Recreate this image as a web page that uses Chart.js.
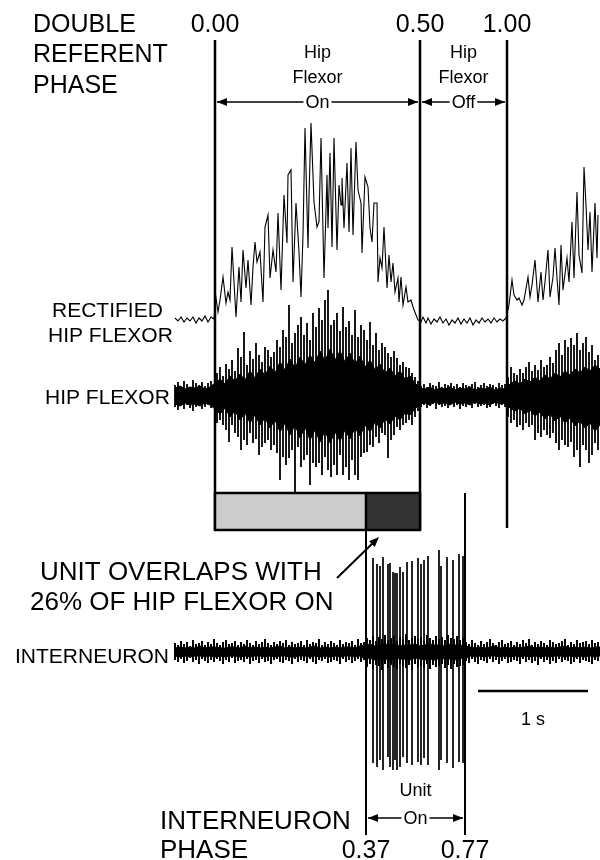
<!DOCTYPE html>
<html>
<head>
<meta charset="utf-8">
<title>Hip flexor / interneuron phase</title>
<script src="https://cdn.jsdelivr.net/npm/chart.js@4.4.1/dist/chart.umd.min.js"></script>
<style>
  html, body { margin: 0; padding: 0; background: #fff; }
  #fig { display: block; }
</style>
</head>
<body>
<canvas id="fig" width="600" height="860"></canvas>
<script>
// display rate of the traces (samples per second), sample 0 = start of recording
const SAMPLE_RATE = 110;

// phase markers (sample index of each marker)
const refPhaseLabels = ['0.00', '0.50', '1.00'];
const refPhaseSamples = [40, 245, 332];
const unitPhaseLabels = ['0.37', '0.77'];
const unitPhaseSamples = [191, 290];
const overlapPercent = 26;
const scaleBarStart = 303;

// rectified hip flexor EMG (sample, amplitude)
const rectSamples = [0,3,6,9,12,15,18,21,24,27,30,33,36,39,
  41,43,45,48,51,53,55,57,61,64,66,68,71,73,76,78,80,82,85,88,90,93,95,98,101,103,106,109,112,113,116,118,121,124,126,128,130,133,134,136,139,142,144,146,149,152,153,155,157,159,162,164,166,167,169,172,174,176,178,181,183,186,187,190,193,195,197,199,202,203,205,207,209,212,214,216,218,220,223,224,226,228,231,233,236,238,241,243,
  246,248,251,253,256,259,262,265,268,271,274,277,280,283,286,289,292,295,298,301,304,307,310,313,316,319,322,325,328,331,
  334,337,339,342,344,347,349,353,355,357,360,363,366,368,370,373,375,378,380,382,384,386,388,392,394,397,399,402,404,407,409,411,413,415,417,420,422,423];
const rectValues = [2,-1,3,-2,2,-1,3,-3,2,-1,4,-2,3,1,
  22,8,20,43,17,28,20,73,3,53,18,70,32,60,15,53,78,58,68,18,93,105,42,70,48,107,30,125,77,145,150,38,117,68,23,85,192,72,123,197,118,93,98,182,42,145,92,167,73,182,70,135,115,142,92,157,88,172,85,178,130,117,67,143,133,92,78,117,117,38,62,52,93,32,65,38,57,28,42,18,43,15,33,18,20,13,5,0,
  -2,3,-3,2,-4,1,-2,3,-3,1,-5,0,-3,2,-4,1,-3,2,-5,0,-3,2,-2,1,-3,2,-2,1,-1,2,
  15,40,25,20,22,15,20,43,23,35,60,18,48,20,38,70,23,43,72,42,15,75,30,62,38,98,42,128,65,47,153,115,70,108,48,117,62,105];

// raw hip flexor EMG
// dense core, one value every envStep samples
const envStep = 5;
const emgUpper = [7,9,6,8,7,9,6,8,
  12,16,11,19,14,21,15,24,17,26,
  20,29,22,33,25,36,27,38,30,40,
  32,44,34,46,35,44,33,42,31,39,
  28,35,25,31,22,27,19,24,16,19,
  12,7,6,8,5,7,6,8,5,7,
  6,8,5,7,6,8,5,7,6,11,
  14,11,16,13,18,14,20,16,22,18,
  24,20,26,22,28,24,30,26];
const emgLower = [9,11,8,10,9,11,8,10,
  14,19,13,22,16,25,18,28,20,30,
  23,33,25,37,28,40,30,43,32,45,
  35,47,36,48,37,46,35,44,33,41,
  30,37,27,33,24,29,21,25,18,20,
  14,9,8,10,7,9,8,10,7,9,
  8,10,7,9,8,10,7,9,8,13,
  16,13,19,15,21,17,24,19,26,21,
  28,23,31,26,33,28,36,30];
// max / min of each bin, one bin every binStep samples
const binStep = 3;
const emgMax = [10,13,9,14,11,8,15,12,10,13,9,12,14,11,
  22,28,19,31,26,35,24,47,
  38,63,30,44,36,52,40,33,48,45,38,43,55,
  48,65,58,90,52,62,70,78,60,72,55,82,68,
  87,75,95,105,70,75,82,64,88,68,74,60,85,
  58,70,65,55,73,50,62,45,52,48,
  42,38,44,37,30,33,28,27,22,18,14,
  9,11,8,12,10,9,13,8,11,10,12,9,11,8,12,10,9,11,13,8,10,12,9,11,10,8,12,10,11,
  18,28,22,20,26,22,28,33,24,30,25,35,28,30,38,32,45,52,40,55,48,57,50,62,45,52,58,43,50,35,40];
const emgMin = [12,15,11,14,10,13,16,12,11,14,12,10,13,12,
  28,25,30,35,47,30,38,42,
  55,45,50,38,48,44,60,52,48,45,55,50,58,
  85,62,70,63,55,97,52,72,65,60,90,68,72,
  68,80,62,75,82,70,80,60,80,72,85,65,80,
  85,62,58,57,50,52,42,48,38,40,
  63,45,40,32,35,30,28,25,30,22,16,
  12,10,13,11,9,14,10,12,11,13,9,12,10,14,11,12,10,13,9,12,11,10,13,12,9,11,13,10,12,
  22,28,25,32,30,35,28,32,30,45,38,42,35,40,43,38,48,55,45,50,52,47,62,55,72,50,55,68,60,48,55];

// interneuron recording: background noise + unit spikes
const unitUpper = [4,5,4,5,4,6,4,5,5,4,4,5,5,4,6,4,5,4,5,4,5,6,4,5,4,5,4,5,6,4,5,4,5,4,5,5,4,6,
  7,8,6,7,8,7,8,6,7,7,8,6,7,8,7,7,6,8,7,7,6,
  5,4,5,4,5,6,4,5,4,5,4,5,6,4,5,4,5,4,5,6,4,5,4,5,4,5,5];
const unitLower = [4,5,4,5,4,4,5,4,5,4,5,4,4,5,4,5,4,4,5,4,5,4,4,5,5,4,4,5,4,5,4,5,4,5,4,4,5,4,
  7,6,8,7,7,8,6,7,7,8,6,7,8,7,8,6,7,7,8,6,7,
  4,5,4,5,4,4,5,4,5,4,5,4,5,4,5,4,5,4,4,5,4,5,4,5,4,5,4];
const unitMax = [9,7,11,8,10,6,12,8,9,11,7,10,8,13,9,7,10,12,8,9,11,7,10,8,12,9,7,11,8,10,13,9,7,10,8,11,9,12,7,10,8,9,11,7,12,8,10,9,13,7,10,8,11,9,7,12,8,10,9,11,7,13,9,10,
  14,12,16,11,15,13,17,12,14,16,11,15,13,18,12,14,16,13,15,11,17,14,12,16,13,15,12,17,14,13,16,12,14,
  10,8,12,9,7,11,8,10,13,9,7,10,12,8,9,11,7,10,8,12,9,13,7,10,8,11,9,7,12,10,8,9,11,13,7,10,8,12,9,10,11,8,12,9,10];
const unitMin = [8,10,7,11,9,6,10,8,12,7,9,11,8,10,7,9,12,8,10,6,11,9,8,10,7,12,9,8,11,7,10,9,12,8,7,10,11,8,9,12,7,10,8,9,11,7,10,12,8,9,7,11,10,8,9,12,7,10,8,11,9,7,10,8,
  15,12,17,13,14,18,12,16,13,15,17,12,14,16,13,18,12,15,14,16,12,17,13,15,14,12,16,13,17,12,15,14,13,
  9,11,7,10,12,8,9,11,7,10,8,12,9,7,11,10,8,9,12,7,10,8,11,9,13,7,10,8,12,9,11,7,10,8,9,12,10,7,11,8,9,10,12,8,9];
const unitSpikeSamples = [191,198,202,205,208,213,215,218,220,222,225,228,232,237,243,246,249,253,264,266,272,278,284,288];
const unitSpikeUp = [97,94,88,86,95,88,89,80,79,79,85,80,90,91,94,88,92,96,102,86,95,92,98,96];
const unitSpikeDown = [123,111,115,108,118,105,115,118,108,118,115,105,111,113,110,113,106,113,118,108,111,116,110,111];

// ---- layout (pixels) ----
const W = 600, H = 860;
const TRACE_LEFT = 175;          // where sample 0 sits
const RECT_BASE = 320, EMG_BASE = 395, UNIT_BASE = 652;
const FONT = '"Liberation Sans", Arial, Helvetica, sans-serif';

function traceAxis(basePx) {
  // 1 amplitude unit per pixel, zero on the trace baseline
  return { type: 'linear', display: false, min: basePx - H, max: basePx };
}

function envelope(values, sign) {
  return values.map((v, i) => ({ x: i * envStep, y: sign * v }));
}

// vertical strokes from -bottom to +top at each sample, broken by gaps
function strokes(samples, tops, bottoms) {
  const pts = [];
  samples.forEach((s, i) => {
    pts.push({ x: s, y: tops[i] });
    pts.push({ x: s, y: -bottoms[i] });
    pts.push({ x: s, y: null });
  });
  return pts;
}

const binSamples = emgMax.map((_, i) => i * binStep);
const lineBase = { borderColor: '#000', pointRadius: 0, tension: 0, spanGaps: false };

const datasets = [
  Object.assign({}, lineBase, {
    label: 'Rectified hip flexor',
    data: rectSamples.map((s, i) => ({ x: s, y: rectValues[i] })),
    yAxisID: 'yRect', borderWidth: 1.1, fill: false
  }),
  Object.assign({}, lineBase, {
    label: 'Hip flexor core (upper)', data: envelope(emgUpper, 1),
    yAxisID: 'yEmg', borderWidth: 1, fill: '+1', backgroundColor: '#000'
  }),
  Object.assign({}, lineBase, {
    label: 'Hip flexor core (lower)', data: envelope(emgLower, -1),
    yAxisID: 'yEmg', borderWidth: 1, fill: false
  }),
  Object.assign({}, lineBase, {
    label: 'Hip flexor', data: strokes(binSamples, emgMax, emgMin),
    yAxisID: 'yEmg', borderWidth: 1.8, fill: false
  }),
  Object.assign({}, lineBase, {
    label: 'Interneuron core (upper)', data: envelope(unitUpper, 1),
    yAxisID: 'yUnit', borderWidth: 1, fill: '+1', backgroundColor: '#000'
  }),
  Object.assign({}, lineBase, {
    label: 'Interneuron core (lower)', data: envelope(unitLower, -1),
    yAxisID: 'yUnit', borderWidth: 1, fill: false
  }),
  Object.assign({}, lineBase, {
    label: 'Interneuron', data: strokes(binSamples, unitMax, unitMin),
    yAxisID: 'yUnit', borderWidth: 2, fill: false
  }),
  Object.assign({}, lineBase, {
    label: 'Interneuron spikes', data: strokes(unitSpikeSamples, unitSpikeUp, unitSpikeDown),
    yAxisID: 'yUnit', borderWidth: 1.7, fill: false
  })
];

function arrowHead(ctx, x, y, dx, dy) {
  const len = Math.hypot(dx, dy);
  const ux = dx / len, uy = dy / len;
  ctx.beginPath();
  ctx.moveTo(x, y);
  ctx.lineTo(x - ux * 10 - uy * 4, y - uy * 10 + ux * 4);
  ctx.lineTo(x - ux * 10 + uy * 4, y - uy * 10 - ux * 4);
  ctx.closePath();
  ctx.fill();
}

function spanArrow(ctx, x1, x2, y, label) {
  ctx.lineWidth = 1.6;
  ctx.beginPath(); ctx.moveTo(x1, y); ctx.lineTo(x2, y); ctx.stroke();
  ctx.fillStyle = '#000';
  arrowHead(ctx, x1, y, -1, 0);
  arrowHead(ctx, x2, y, 1, 0);
  const cx = (x1 + x2) / 2;
  const w = ctx.measureText(label).width + 4;
  ctx.fillStyle = '#fff';
  ctx.fillRect(cx - w / 2, y - 9, w, 18);
  ctx.fillStyle = '#000';
  ctx.fillText(label, cx, y + 1);
}

function vline(ctx, x, y1, y2, w) {
  ctx.lineWidth = w;
  ctx.beginPath(); ctx.moveTo(x, y1); ctx.lineTo(x, y2); ctx.stroke();
}

const figureNotes = {
  id: 'figureNotes',
  afterDatasetsDraw(chart) {
    const ctx = chart.ctx;
    const px = s => chart.scales.x.getPixelForValue(s);
    ctx.save();
    ctx.strokeStyle = '#000';
    ctx.fillStyle = '#000';

    // double referent phase lines + labels
    const refX = refPhaseSamples.map(px);
    refX.forEach((x, i) => vline(ctx, x, 40, i === 2 ? 528 : 530, 2.5));
    ctx.font = '25px ' + FONT;
    ctx.textAlign = 'center';
    ctx.textBaseline = 'alphabetic';
    refPhaseLabels.forEach((t, i) => ctx.fillText(t, refX[i], 32));
    ctx.textAlign = 'left';
    ctx.fillText('DOUBLE', 33, 32);
    ctx.fillText('REFERENT', 33, 62);
    ctx.fillText('PHASE', 33, 93);

    // hip flexor on / off
    ctx.font = '18px ' + FONT;
    ctx.textAlign = 'center';
    ctx.textBaseline = 'middle';
    const onMid = (refX[0] + refX[1]) / 2, offMid = (refX[1] + refX[2]) / 2;
    ctx.fillText('Hip', onMid, 53);
    ctx.fillText('Flexor', onMid, 78);
    ctx.fillText('Hip', offMid, 53);
    ctx.fillText('Flexor', offMid, 78);
    spanArrow(ctx, refX[0] + 2, refX[1] - 2, 102, 'On');
    spanArrow(ctx, refX[1] + 2, refX[2] - 2, 102, 'Off');

    // overlap bar
    const ux = unitPhaseSamples.map(px);
    const boxTop = 493, boxBot = 530;
    ctx.fillStyle = '#cccccc';
    ctx.fillRect(refX[0], boxTop, ux[0] - refX[0], boxBot - boxTop);
    ctx.fillStyle = '#333333';
    ctx.fillRect(ux[0], boxTop, refX[1] - ux[0], boxBot - boxTop);
    ctx.lineWidth = 2.5;
    ctx.strokeRect(refX[0], boxTop, refX[1] - refX[0], boxBot - boxTop);
    vline(ctx, ux[0], boxTop, boxBot, 2.5);

    // unit phase lines
    vline(ctx, ux[0], boxBot, 835, 2);
    vline(ctx, ux[1], boxTop, 835, 2);

    // overlap annotation
    ctx.lineWidth = 2;
    ctx.beginPath(); ctx.moveTo(337, 578); ctx.lineTo(376, 540); ctx.stroke();
    ctx.fillStyle = '#000';
    arrowHead(ctx, 379, 537, 41, -41);
    ctx.font = '26px ' + FONT;
    ctx.textAlign = 'left';
    ctx.textBaseline = 'alphabetic';
    ctx.fillText('UNIT OVERLAPS WITH', 40, 580);
    ctx.fillText(overlapPercent + '% OF HIP FLEXOR ON', 30, 610);

    // unit on
    ctx.font = '18px ' + FONT;
    ctx.textAlign = 'center';
    ctx.textBaseline = 'middle';
    ctx.fillText('Unit', (ux[0] + ux[1]) / 2, 791);
    spanArrow(ctx, ux[0] + 2, ux[1] - 2, 818, 'On');

    // interneuron phase labels
    ctx.font = '26px ' + FONT;
    ctx.textBaseline = 'alphabetic';
    ctx.textAlign = 'left';
    ctx.fillText('INTERNEURON', 160, 829);
    ctx.fillText('PHASE', 160, 858);
    ctx.font = '25px ' + FONT;
    ctx.textAlign = 'center';
    unitPhaseLabels.forEach((t, i) => ctx.fillText(t, ux[i], 858));

    // 1 s scale bar
    const sb1 = px(scaleBarStart), sb2 = px(scaleBarStart + SAMPLE_RATE);
    ctx.lineWidth = 2.5;
    ctx.beginPath(); ctx.moveTo(sb1, 691); ctx.lineTo(sb2, 691); ctx.stroke();
    ctx.font = '18px ' + FONT;
    ctx.fillText('1 s', (sb1 + sb2) / 2, 725);

    // trace labels
    ctx.font = '21px ' + FONT;
    ctx.textAlign = 'left';
    ctx.fillText('RECTIFIED', 52, 317);
    ctx.fillText('HIP FLEXOR', 48, 342);
    ctx.fillText('HIP FLEXOR', 45, 404);
    ctx.fillText('INTERNEURON', 15, 663);

    ctx.restore();
  }
};

new Chart(document.getElementById('fig'), {
  type: 'line',
  data: { datasets },
  options: {
    responsive: false,
    animation: false,
    devicePixelRatio: 1,
    layout: { padding: 0 },
    scales: {
      x: { type: 'linear', display: false, min: -TRACE_LEFT, max: W - TRACE_LEFT },
      yRect: traceAxis(RECT_BASE),
      yEmg: traceAxis(EMG_BASE),
      yUnit: traceAxis(UNIT_BASE)
    },
    plugins: { legend: { display: false }, tooltip: { enabled: false } },
    events: []
  },
  plugins: [figureNotes]
});
</script>
</body>
</html>
